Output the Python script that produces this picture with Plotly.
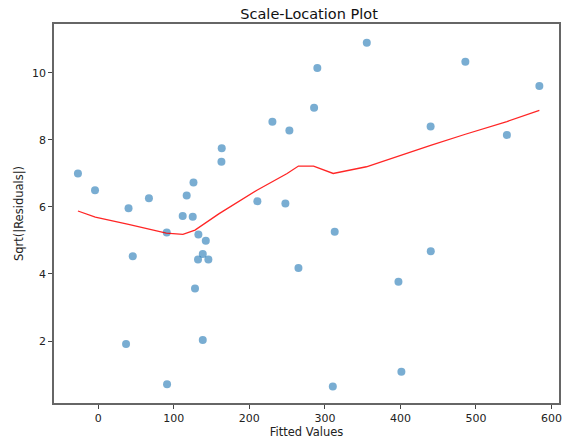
import plotly.graph_objects as go

fitted = [-27, -4.4, 40, 67, 117, 126, 163.4, 163, 230.5, 253, 210.6, 247.7,
          111.7, 125, 90.6, 132.5, 142.3, 138.3, 132, 145.7, 45.6, 128, 36.7,
          138.3, 91, 265, 285.7, 290, 355.5, 486, 584, 440, 541, 313, 440.2,
          397.4, 401.3, 310.5]
sqrt_resid = [7.0, 6.5, 5.96, 6.26, 6.34, 6.73, 7.75, 7.35, 8.54, 8.28, 6.17, 6.10,
              5.73, 5.71, 5.24, 5.18, 4.99, 4.60, 4.43, 4.43, 4.53, 3.57, 1.91,
              2.03, 0.71, 4.18, 8.96, 10.15, 10.90, 10.33, 9.61, 8.40, 8.15, 5.26,
              4.68, 3.77, 1.08, 0.64]

smooth_x = [-27, -4, 40, 90, 112, 128, 160, 210, 250, 265, 285, 311, 355, 400,
            440, 486, 541, 584]
smooth_y = [5.88, 5.70, 5.48, 5.22, 5.18, 5.31, 5.80, 6.50, 7.00, 7.22, 7.22,
            7.00, 7.20, 7.55, 7.84, 8.17, 8.55, 8.88]

x_ticks = [0, 100, 200, 300, 400, 500, 600]
y_ticks = [2, 4, 6, 8, 10]

fig = go.Figure()
fig.add_trace(go.Scatter(
    x=fitted, y=sqrt_resid, mode="markers",
    marker=dict(color="#1f77b4", opacity=0.6, size=8, line=dict(width=0)),
    showlegend=False))
fig.add_trace(go.Scatter(
    x=smooth_x, y=smooth_y, mode="lines",
    line=dict(color="red", width=1.3), opacity=0.85, showlegend=False))

axis_common = dict(
    showgrid=False, zeroline=False, showline=True, mirror=True, automargin=False,
    linecolor="#666666", linewidth=1.5, ticks="outside", ticklen=4,
    tickcolor="#444444", tickfont=dict(family="DejaVu Sans", size=11, color="#222222"))

fig.update_xaxes(range=[-58.7, 610], tickvals=x_ticks,
                 title=dict(text="Fitted Values", font=dict(family="DejaVu Sans", size=11.5, color="#222222"), standoff=2),
                 **axis_common)
fig.update_yaxes(range=[0.15, 11.46], tickvals=y_ticks,
                 title=dict(text="Sqrt(|Residuals|)", font=dict(family="DejaVu Sans", size=11.5, color="#222222"), standoff=6),
                 **axis_common)

fig.update_layout(
    width=564, height=439,
    margin=dict(l=54, r=5, t=24, b=36, autoexpand=False),
    plot_bgcolor="white", paper_bgcolor="white",
    title=dict(text="Scale-Location Plot", x=0.548, xanchor="center", y=0.968, yanchor="middle",
               font=dict(family="DejaVu Sans", size=14.5, color="#111111"), automargin=False),
)

fig.write_html("out.html", config={"displayModeBar": False},
               post_script="document.body.style.margin='0';")
